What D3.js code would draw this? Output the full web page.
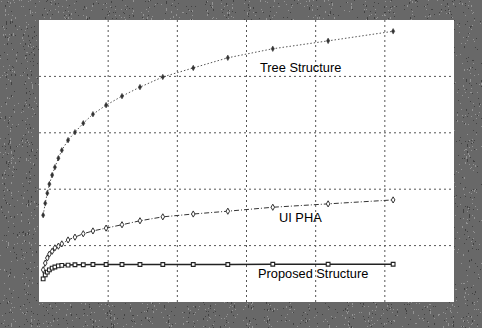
<!DOCTYPE html>
<html><head><meta charset="utf-8">
<script src="https://cdn.jsdelivr.net/npm/d3@7"></script>
<style>html,body{margin:0;padding:0;background:#fff;}svg{display:block;}</style>
</head><body>
<svg id="c" width="482" height="328"></svg>
<script>
// x positions of samples (same for all series)
const xValues = [0.6, 0.9, 1.2, 1.5, 1.9, 2.3, 2.8, 3.3, 4.2, 5.2, 6.4, 7.8, 9.7, 12.0, 14.6, 17.9, 22.3, 27.3, 33.8, 41.8, 51.2];
const treeStructure = [15.4, 17.5, 19.3, 20.9, 22.5, 23.9, 25.5, 26.9, 28.7, 30.1, 31.7, 33.3, 34.9, 36.5, 38.1, 39.9, 41.5, 43.3, 44.9, 46.3, 48.0];
const uiPHA = [5.7, 6.9, 7.8, 8.5, 9.0, 9.6, 9.9, 10.3, 11.0, 11.5, 12.1, 12.6, 13.1, 13.7, 14.4, 15.1, 15.6, 16.1, 16.8, 17.4, 18.1];
const proposed = [4.1, 4.8, 5.3, 5.7, 6.0, 6.2, 6.4, 6.5, 6.55, 6.6, 6.6, 6.65, 6.65, 6.65, 6.65, 6.65, 6.65, 6.65, 6.7, 6.7, 6.7];
const seriesNames = ["Tree Structure", "UI PHA", "Proposed Structure"];
const xTicks = [10, 20, 30, 40, 50];
const yTicks = [10, 20, 30, 40];

const svg = d3.select("#c");
const W = 482, H = 328;
const x = d3.scaleLinear().domain([0, 60]).range([39, 454]);
const y = d3.scaleLinear().domain([0, 50]).range([302, 20]);

// textured gray background (scan look)
const defs = svg.append("defs");
const f = defs.append("filter").attr("id", "noise").attr("x", 0).attr("y", 0).attr("width", "100%").attr("height", "100%");
f.append("feTurbulence").attr("type", "fractalNoise").attr("baseFrequency", "0.95 0.35").attr("numOctaves", 2).attr("seed", 7).attr("result", "t");
f.append("feColorMatrix").attr("type", "saturate").attr("values", 0).attr("in", "t").attr("result", "g");
const ct = f.append("feComponentTransfer").attr("in", "g");
["feFuncR", "feFuncG", "feFuncB"].forEach(n => ct.append(n).attr("type", "discrete").attr("tableValues", "0.05 0.2 0.55"));
ct.append("feFuncA").attr("type", "linear").attr("slope", 0).attr("intercept", 1);

svg.append("rect").attr("width", W).attr("height", H).attr("fill", "#4a4a4a");
svg.append("rect").attr("width", W).attr("height", H).attr("filter", "url(#noise)").attr("opacity", 0.6);

// plot area
svg.append("rect").attr("x", x(0)).attr("y", y(50)).attr("width", x(60) - x(0)).attr("height", y(0) - y(50)).attr("fill", "#fff");

// grid
const g = svg.append("g");
g.selectAll("line.v").data(xTicks).join("line")
  .attr("x1", d => x(d)).attr("x2", d => x(d)).attr("y1", y(50)).attr("y2", y(0))
  .attr("stroke", "#555").attr("stroke-width", 1).attr("stroke-dasharray", "2,3");
g.selectAll("line.h").data(yTicks).join("line")
  .attr("y1", d => y(d)).attr("y2", d => y(d)).attr("x1", x(0)).attr("x2", x(60))
  .attr("stroke", "#555").attr("stroke-width", 1).attr("stroke-dasharray", "2,3");

const line = d3.line().x(d => x(d[0])).y(d => y(d[1]));
const pts = arr => xValues.map((v, i) => [v, arr[i]]);

// Tree structure
svg.append("path").datum(pts(treeStructure)).attr("d", line).attr("fill", "none")
  .attr("stroke", "#555").attr("stroke-width", 1).attr("stroke-dasharray", "1.5,2");
svg.append("g").selectAll("path").data(pts(treeStructure)).join("path")
  .attr("d", d3.symbol(d3.symbolDiamond, 9)).attr("transform", d => `translate(${x(d[0])},${y(d[1])})`)
  .attr("fill", "#333").attr("stroke", "#333").attr("stroke-width", 0.5);

// UI PHA
svg.append("path").datum(pts(uiPHA)).attr("d", line).attr("fill", "none")
  .attr("stroke", "#333").attr("stroke-width", 1).attr("stroke-dasharray", "5,2,1,2");
svg.append("g").selectAll("path").data(pts(uiPHA)).join("path")
  .attr("d", d3.symbol(d3.symbolDiamond, 11)).attr("transform", d => `translate(${x(d[0])},${y(d[1])})`)
  .attr("fill", "#fff").attr("stroke", "#333").attr("stroke-width", 1);

// Proposed
svg.append("path").datum(pts(proposed)).attr("d", line).attr("fill", "none")
  .attr("stroke", "#222").attr("stroke-width", 1.6);
svg.append("g").selectAll("path").data(pts(proposed)).join("path")
  .attr("d", d3.symbol(d3.symbolSquare, 14)).attr("transform", d => `translate(${x(d[0])},${y(d[1])})`)
  .attr("fill", "#fff").attr("stroke", "#222").attr("stroke-width", 1.1);

// labels
const labelPos = [[260, 72], [279, 222], [258, 278]];
svg.append("g").selectAll("text").data(seriesNames).join("text")
  .attr("x", (d, i) => labelPos[i][0]).attr("y", (d, i) => labelPos[i][1])
  .attr("font-family", "Liberation Sans, Arial, sans-serif").attr("font-size", 12.8)
  .attr("fill", "#000").text(d => d);
</script>
</body></html>
